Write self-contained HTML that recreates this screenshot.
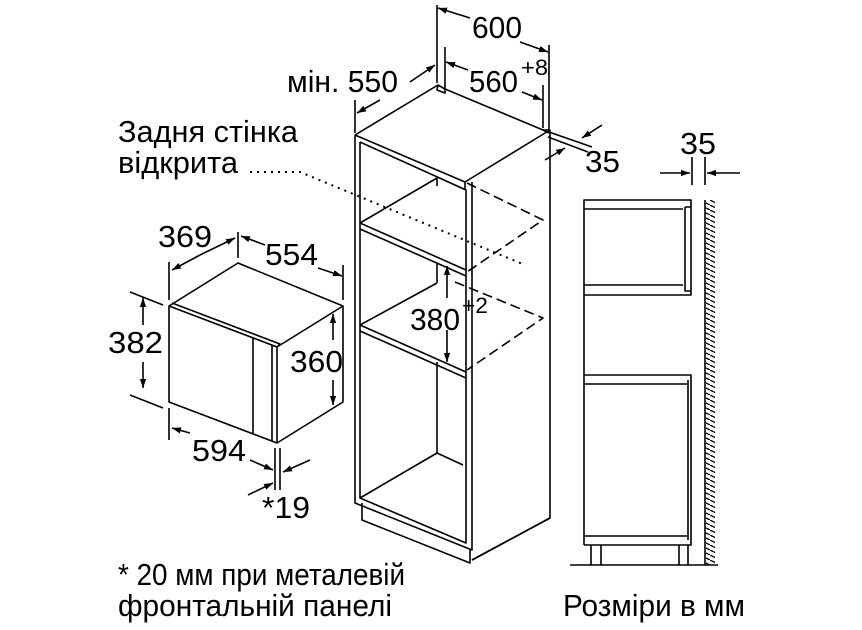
<!DOCTYPE html>
<html><head><meta charset="utf-8"><style>
html,body{margin:0;padding:0;background:#fff}
svg{display:block}
text{font-family:"Liberation Sans",sans-serif;fill:#000}
</style></head><body>
<svg width="862" height="630" viewBox="0 0 862 630" xmlns="http://www.w3.org/2000/svg">
<defs>
<marker id="a" viewBox="0 0 10 10" refX="10" refY="5" markerWidth="9" markerHeight="9" orient="auto-start-reverse" markerUnits="userSpaceOnUse"><path d="M0,1.5 L10,5 L0,8.5 z" fill="#000"/></marker>
<pattern id="h" width="10" height="5" patternUnits="userSpaceOnUse"><path d="M0,0 L10,5" stroke="#000" stroke-width="1.3"/></pattern>
</defs>
<g fill="none" stroke="#000" stroke-width="1.6" stroke-linejoin="round">
<path d="M355,135 L438,85 L445,89 L543,130 L550,130 L550,518 L472,560"/>
<path d="M438,85 L437,90 L445,93 L445,89"/>
<path d="M543,130 L549,133"/>
<path d="M355,135 L465,182 L550,130"/>
<path d="M355,135 L355,503 L472,550 L472,182"/>
<path d="M360,142 L360,498 L466,543 L466,190 L360,142"/>
<path d="M465,182 L465,190"/>
<path d="M360,223 L466,270 M360,229 L466,276"/>
<path d="M360,325 L466,372 M360,331 L466,378"/>
<path d="M360,223 L437,178 L437,186"/>
<path d="M360,325 L437,283"/>
<path d="M437,263 L437,283"/>
<path d="M437,362 L437,453 L360,498 M437,453 L463,465"/>
<path d="M362,503 L362,520 L470,563 L470,550 M472,560 L550,518"/>
<path d="M467,183 L543,220 L467,272" stroke-dasharray="10,5"/>
<path d="M455,282 L543,318 L467,370" stroke-dasharray="10,5"/>
<path d="M250,172 L300,172 L525,265" stroke-dasharray="2,5" stroke-width="2"/>
<path d="M437,5 L437,83 M445,47 L445,90 M549,45 L549,130 M543,85 L543,128 M355,100 L355,133"/>
<path d="M470,18 L438,8" marker-end="url(#a)"/>
<path d="M520,42 L548,52" marker-end="url(#a)"/>
<path d="M410,82 L435,65" marker-end="url(#a)"/>
<path d="M380,100 L357,113" marker-end="url(#a)"/>
<path d="M468,70 L446,62" marker-end="url(#a)"/>
<path d="M522,92 L542,100" marker-end="url(#a)"/>
<path d="M549,132 L592,147 M548,137 L588,152"/>
<path d="M602,125 L582,138" marker-end="url(#a)"/>
<path d="M545,160 L565,148" marker-end="url(#a)"/>
<path d="M447,298 L447,266" marker-end="url(#a)"/>
<path d="M447,330 L447,362" marker-end="url(#a)"/>
<path d="M169,306 L238,263 L343,306 L277,347 L169,306 L169,402 L277,443 L343,402 L343,306"/>
<path d="M172,303 L280,344 L277,347"/>
<path d="M277,347 L277,443 M272,345 L272,441 M253,337 L253,433"/>
<path d="M238,232 L238,258 M169,262 L169,300 M343,265 L343,300"/>
<path d="M200,255 L235,238" marker-end="url(#a)"/>
<path d="M200,255 L172,270" marker-end="url(#a)"/>
<path d="M265,245 L241,236" marker-end="url(#a)"/>
<path d="M318,268 L342,276" marker-end="url(#a)"/>
<path d="M130,292 L163,305 M130,395 L163,408"/>
<path d="M143,325 L143,298" marker-end="url(#a)"/>
<path d="M143,362 L143,388" marker-end="url(#a)"/>
<path d="M333,340 L333,314" marker-end="url(#a)"/>
<path d="M333,380 L333,405" marker-end="url(#a)"/>
<path d="M169,408 L169,440 M275,448 L275,490 M280,448 L280,490"/>
<path d="M190,433 L172,428" marker-end="url(#a)"/>
<path d="M250,460 L273,470" marker-end="url(#a)"/>
<path d="M310,460 L283,472" marker-end="url(#a)"/>
<path d="M248,495 L273,483" marker-end="url(#a)"/>
<path d="M584,200 L691,200 L691,295 L584,295 Z M584,209 L683,209 M584,285 L683,285"/>
<path d="M685,207 L691,207 M685,207 L685,291 L691,291"/>
<path d="M584,295 L584,545"/>
<path d="M584,375 L691,375 L691,545 L584,545 M584,384 L687,384 M584,536 L687,536 M688,380 L688,540"/>
<path d="M591,545 L591,565 M601,545 L601,565 M679,545 L679,565 M688,545 L688,565"/>
<path d="M570,565 L718,565"/>
<path d="M705,200 L705,565"/>
<path d="M692,157 L692,185 M705,157 L705,185"/>
<path d="M660,173 L690,173" marker-end="url(#a)"/>
<path d="M740,173 L707,173" marker-end="url(#a)"/>
</g>
<rect x="706" y="200" width="9" height="365" fill="url(#h)"/>
<g font-size="31">
<text x="472" y="38" textLength="50" lengthAdjust="spacingAndGlyphs">600</text>
<text x="287" y="92" textLength="111" lengthAdjust="spacingAndGlyphs">мін. 550</text>
<text x="469" y="92" textLength="49" lengthAdjust="spacingAndGlyphs">560</text><text x="521" y="75" font-size="22" textLength="27" lengthAdjust="spacingAndGlyphs">+8</text>
<text x="585" y="172" textLength="35" lengthAdjust="spacingAndGlyphs">35</text>
<text x="680" y="154" textLength="36" lengthAdjust="spacingAndGlyphs">35</text>
<text x="118" y="142" textLength="180" lengthAdjust="spacingAndGlyphs">Задня стінка</text>
<text x="118" y="173" textLength="120" lengthAdjust="spacingAndGlyphs">відкрита</text>
<text x="158" y="247" textLength="54" lengthAdjust="spacingAndGlyphs">369</text>
<text x="265" y="265" textLength="53" lengthAdjust="spacingAndGlyphs">554</text>
<text x="108" y="353" textLength="55" lengthAdjust="spacingAndGlyphs">382</text>
<text x="290" y="372" textLength="53" lengthAdjust="spacingAndGlyphs">360</text>
<text x="410" y="330" textLength="50" lengthAdjust="spacingAndGlyphs">380</text><text x="462" y="313" font-size="22" textLength="26" lengthAdjust="spacingAndGlyphs">+2</text>
<text x="192" y="461" textLength="54" lengthAdjust="spacingAndGlyphs">594</text>
<text x="262" y="518" textLength="48" lengthAdjust="spacingAndGlyphs">*19</text>
<text x="118" y="585" textLength="287" lengthAdjust="spacingAndGlyphs">* 20 мм при металевій</text>
<text x="118" y="616" textLength="274" lengthAdjust="spacingAndGlyphs">фронтальній панелі</text>
<text x="563" y="616" textLength="182" lengthAdjust="spacingAndGlyphs">Розміри в мм</text>
</g>
</svg>
</body></html>
